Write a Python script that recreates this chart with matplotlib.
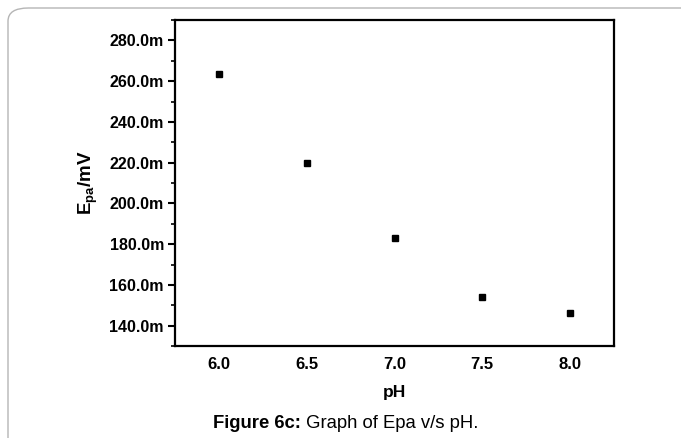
import matplotlib
matplotlib.use('Agg')
import matplotlib.pyplot as plt
from matplotlib.patches import FancyBboxPatch
from matplotlib.ticker import MultipleLocator, FormatStrFormatter

plt.rcParams['font.family'] = 'Liberation Sans'
plt.rcParams['mathtext.fontset'] = 'custom'
plt.rcParams['mathtext.rm'] = 'Liberation Sans'
plt.rcParams['mathtext.bf'] = 'Liberation Sans:bold'

# data
ph = [6.0, 6.5, 7.0, 7.5, 8.0]
epa = [263.5, 220.0, 183.0, 154.0, 146.0]   # in mV (shown as "m" labels)

fig = plt.figure(figsize=(6.81, 4.38), dpi=100)
W, H = 681, 438

# rounded grey frame of the page
frame = FancyBboxPatch((8 / W, -0.2), 1.2, 1.2 - 8 / H,
                       boxstyle='round,pad=0,rounding_size=0.03',
                       transform=fig.transFigure, fill=False,
                       edgecolor='#b5b5b5', linewidth=1.0)
fig.patches.append(frame)

ax = fig.add_axes([175 / W, 1 - 346 / H, (614 - 175) / W, (346 - 20) / H])
ax.plot(ph, epa, 's', color='black', markersize=4.8)

ax.set_xlim(5.75, 8.25)
ax.set_ylim(130, 290)
ax.set_xticks([6.0, 6.5, 7.0, 7.5, 8.0])
ax.xaxis.set_major_formatter(FormatStrFormatter('%.1f'))
ax.yaxis.set_major_locator(MultipleLocator(20))
ax.yaxis.set_minor_locator(MultipleLocator(10))
ax.yaxis.set_major_formatter(FormatStrFormatter('%.1fm'))
ax.set_yticks([140, 160, 180, 200, 220, 240, 260, 280])

ax.tick_params(axis='y', which='major', direction='out', length=5, width=1.5, pad=3, labelsize=11.5)
ax.tick_params(axis='y', which='minor', direction='out', length=3, width=1.2)
ax.tick_params(axis='x', which='both', length=0, pad=8, labelsize=12)
for lab in ax.get_xticklabels() + ax.get_yticklabels():
    lab.set_fontweight('bold')
for s in ax.spines.values():
    s.set_linewidth(1.6)

ax.set_xlabel('pH', fontsize=12.5, fontweight='bold', labelpad=9)
ax.set_ylabel(r'E$_{\mathbf{pa}}$/mV', fontsize=13.5, fontweight='bold', va='center')
ax.yaxis.set_label_coords(-0.198, 0.5)

# caption: bold part then regular part
cy = 1 - 424 / H
t1 = fig.text(213 / W, cy, 'Figure 6c:', fontsize=13.3, fontweight='bold',
              ha='left', va='center')
fig.canvas.draw()
bb = t1.get_window_extent()
fig.text(bb.x1 / W, cy, ' Graph of Epa v/s pH.', fontsize=13.3,
         ha='left', va='center')

fig.savefig('out.png', dpi=100)
